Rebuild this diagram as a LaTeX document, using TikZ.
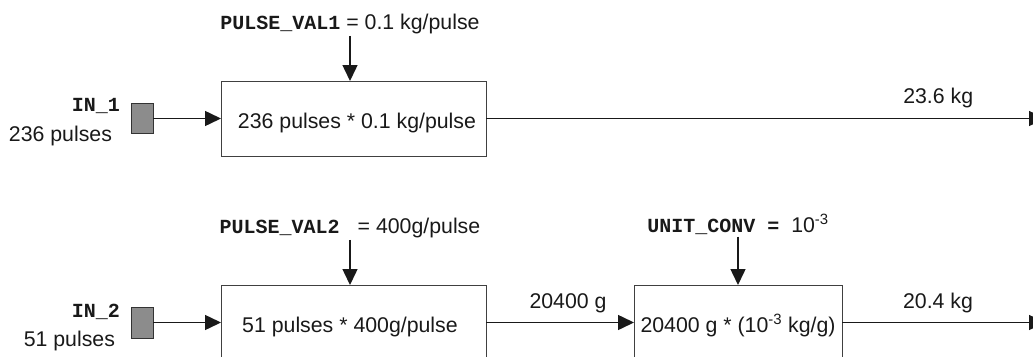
\documentclass[tikz,border=0pt]{standalone}
\usepackage{fontspec}
\setmainfont{Liberation Sans}
\setmonofont{Liberation Mono}
\usetikzlibrary{arrows.meta}
\newcommand\mn[1]{{\ttfamily\bfseries\fontsize{20}{24}\selectfont #1}}
\begin{document}
\begin{tikzpicture}[x=1pt,y=-1pt,
  txt/.style={font=\fontsize{21.3}{25}\selectfont, inner sep=0pt, outer sep=0pt, text=black!90},
  prm/.style={txt, anchor=base},
  lbl/.style={txt, anchor=base},
  blk/.style={draw=black!75, line width=1pt, inner sep=0pt, outer sep=0pt, minimum height=75pt},
  sq/.style={draw=black!80, fill=black!45, line width=1pt, inner sep=0pt, outer sep=0pt, minimum width=22pt},
  flow/.style={draw=black!90, line width=1.5pt, -{Triangle[length=16pt,width=15pt]}}
]
\clip (0,0) rectangle (1033,356);
% top row
\node[sq, minimum height=30pt] (s1) at (142,118.5) {};
\node[txt, anchor=base east] (in1) at (120,111) {\mn{IN\_1}};
\node[txt, anchor=base east] (n1) at (112,141) {236 pulses};
\node[blk, minimum width=265pt] (b1) at (353.5,118.5) {};
\node[txt, anchor=base] (t1) at (357,128) {236 pulses * 0.1 kg/pulse};
\node[prm, inner sep=1pt] (p1) at (350,29) {\mn{PULSE\_VAL1} = 0.1 kg/pulse};
\coordinate (o1) at (1045,118.5);
\draw[flow] (s1) -- (b1);
\draw[flow, shorten <=1.5pt] (p1.south) -- (p1.south |- b1.north);
\draw[flow] (b1) -- node[lbl, pos=0.809, yshift=15.5pt] {23.6 kg} (o1);
% bottom row
\node[sq, minimum height=31pt] (s2) at (142,322.5) {};
\node[txt, anchor=base east] (in2) at (120,317) {\mn{IN\_2}};
\node[txt, anchor=base east] (n2) at (115,346) {51 pulses};
\node[blk, minimum width=265pt] (b2) at (353.5,322.5) {};
\node[txt, anchor=base] (t2) at (350,332) {51 pulses * 400g/pulse};
\node[prm, inner sep=1pt] (p2) at (350,233) {\mn{PULSE\_VAL2\ } = 400g/pulse};
\node[blk, minimum width=208pt] (b3) at (738,322.5) {};
\node[txt, anchor=base] (t3) at (738,332) {20400 g * (10\textsuperscript{-3} kg/g)};
\node[prm, inner sep=1pt] (p3) at (738,232) {\mn{UNIT\_CONV =\ }10\textsuperscript{-3}};
\coordinate (o2) at (1045,322.5);
\draw[flow] (s2) -- (b2);
\draw[flow, shorten <=1.5pt] (p2.south) -- (p2.south |- b2.north);
\draw[flow, shorten <=1.5pt] (p3.south) -- (p3.south |- b3.north);
\draw[flow] (b2) -- node[lbl, pos=0.554, yshift=14.5pt] {20400 g} (b3);
\draw[flow] (b3) -- node[lbl, pos=0.473, yshift=14.5pt] {20.4 kg} (o2);
\end{tikzpicture}
\end{document}
